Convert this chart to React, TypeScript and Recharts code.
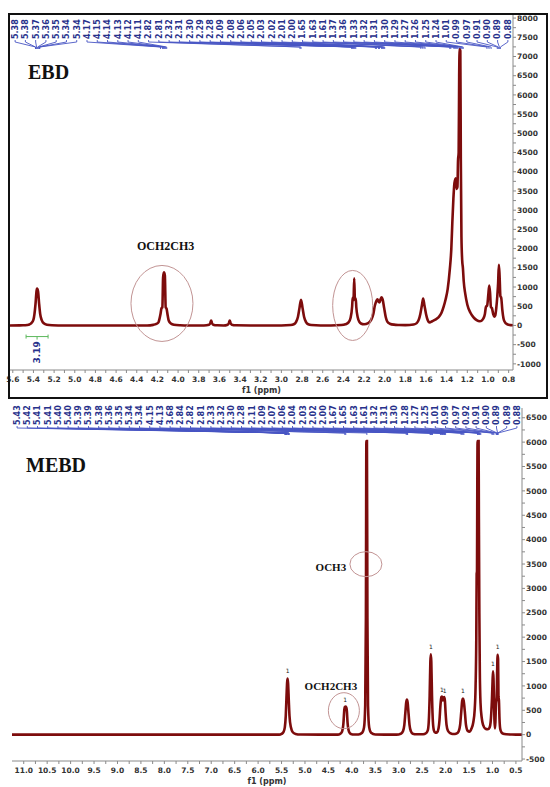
import { LineChart, Line, XAxis, YAxis, ReferenceDot } from 'recharts';

type Pt = [number, number];

// ---- EBD trace, [ppm, intensity] ----
const ebdOlefinic: Pt[] = [
  [5.627, 0], [5.5, 3], [5.46, 12], [5.44, 25], [5.42, 60], [5.4, 150], [5.39, 300], [5.38, 560],
  [5.37, 900], [5.365, 960], [5.355, 880], [5.345, 560], [5.335, 300], [5.32, 140], [5.3, 55],
  [5.27, 18], [5.22, 5], [5.1, 0],
];
const ebdEthoxy: Pt[] = [
  [4.3, 0], [4.24, 15], [4.21, 40], [4.19, 80], [4.18, 170], [4.17, 300], [4.16, 450], [4.152, 470],
  [4.145, 1250], [4.137, 1380], [4.128, 1300], [4.12, 470], [4.112, 440], [4.1, 250], [4.09, 120],
  [4.07, 50], [4.04, 18], [3.98, 5], [3.9, 0],
];
const ebdMinor: Pt[] = [
  [3.75, 0], [3.7, 20], [3.688, 60], [3.68, 130], [3.672, 60], [3.66, 20], [3.62, 3], [3.56, 0],
  [3.52, 20], [3.508, 60], [3.5, 130], [3.492, 60], [3.48, 20], [3.44, 3], [3.3, 0],
];
const ebdBisallylic: Pt[] = [
  [3.0, 0], [2.91, 10], [2.88, 30], [2.86, 80], [2.84, 220], [2.825, 450], [2.81, 670], [2.795, 450],
  [2.78, 220], [2.76, 80], [2.74, 30], [2.71, 10], [2.62, 0],
];
const ebdAlpha: Pt[] = [
  [2.52, 0], [2.42, 10], [2.38, 30], [2.35, 80], [2.33, 200], [2.315, 500], [2.31, 720], [2.302, 650],
  [2.295, 1230], [2.288, 650], [2.28, 700], [2.275, 480], [2.26, 200], [2.245, 90], [2.23, 50],
];
const ebdAllylic: Pt[] = [
  [2.2, 30], [2.16, 60], [2.13, 150], [2.11, 300], [2.095, 520], [2.08, 640], [2.07, 680], [2.06, 620],
  [2.05, 600], [2.04, 680], [2.03, 730], [2.02, 680], [2.005, 450], [1.99, 220], [1.975, 100],
  [1.95, 45], [1.91, 20], [1.86, 12],
];
const ebdBeta: Pt[] = [
  [1.8, 8], [1.72, 25], [1.69, 60], [1.67, 150], [1.655, 300], [1.64, 520], [1.628, 700], [1.615, 520],
  [1.6, 300], [1.585, 150], [1.565, 80],
];
const ebdChain: Pt[] = [
  [1.54, 110], [1.51, 150], [1.48, 210], [1.45, 330], [1.43, 480], [1.41, 680], [1.39, 950], [1.37, 1450],
  [1.355, 2000], [1.345, 2700], [1.335, 3300], [1.325, 3700], [1.312, 3830], [1.303, 3550], [1.296, 3600],
  [1.29, 4300], [1.284, 4500], [1.279, 6500], [1.274, 7200], [1.268, 7150], [1.263, 4300], [1.257, 2300],
  [1.25, 1700], [1.243, 1500], [1.235, 1150], [1.22, 820], [1.2, 540], [1.17, 330], [1.14, 210],
  [1.11, 140], [1.08, 110], [1.06, 130],
];
const ebdMethyl: Pt[] = [
  [1.045, 180], [1.03, 300], [1.02, 480], [1.008, 520], [0.997, 800], [0.988, 1040], [0.98, 850],
  [0.972, 480], [0.962, 450], [0.95, 300], [0.94, 230], [0.93, 260], [0.92, 450], [0.91, 760],
  [0.902, 1100], [0.895, 1580], [0.888, 1300], [0.88, 760], [0.872, 720], [0.862, 420], [0.85, 180],
  [0.835, 80], [0.82, 40], [0.8, 18], [0.78, 8], [0.758, 5],
];

// ---- MEBD trace ----
const mebdOlefinic: Pt[] = [
  [11.25, 0], [6.0, 0], [5.55, 0], [5.5, 15], [5.46, 50], [5.43, 150], [5.41, 380], [5.395, 750],
  [5.38, 1080], [5.37, 1150], [5.36, 1050], [5.345, 700], [5.33, 380], [5.3, 150], [5.26, 50],
  [5.2, 15], [5.1, 3], [4.4, 0],
];
const mebdEthoxy: Pt[] = [
  [4.3, 0], [4.25, 15], [4.21, 60], [4.18, 230], [4.16, 520], [4.15, 570], [4.13, 575], [4.11, 520],
  [4.09, 230], [4.06, 60], [4.02, 15], [3.95, 3],
];
const mebdMethoxy: Pt[] = [
  [3.86, 5], [3.78, 40], [3.74, 150], [3.715, 600], [3.7, 2400], [3.69, 6020], [3.678, 6020],
  [3.668, 2400], [3.655, 600], [3.63, 150], [3.59, 40], [3.5, 5], [3.1, 0],
];
const mebdBisallylic: Pt[] = [
  [3.0, 5], [2.95, 20], [2.91, 70], [2.88, 200], [2.86, 430], [2.84, 660], [2.825, 720], [2.81, 660],
  [2.79, 430], [2.77, 200], [2.74, 70], [2.7, 20], [2.62, 8],
];
const mebdAlpha: Pt[] = [
  [2.48, 10], [2.42, 30], [2.38, 90], [2.36, 250], [2.34, 800], [2.325, 1500], [2.315, 1650],
  [2.305, 1500], [2.29, 800], [2.27, 250], [2.25, 90], [2.22, 40],
];
const mebdAllylic: Pt[] = [
  [2.18, 50], [2.15, 130], [2.13, 300], [2.11, 600], [2.09, 770], [2.075, 780], [2.06, 700],
  [2.045, 740], [2.03, 770], [2.015, 700], [2.0, 450], [1.98, 200], [1.95, 80], [1.9, 30], [1.85, 15],
  [1.8, 15],
];
const mebdBeta: Pt[] = [
  [1.76, 25], [1.72, 70], [1.69, 200], [1.665, 480], [1.645, 700], [1.63, 740], [1.615, 700],
  [1.59, 480], [1.565, 200], [1.53, 80], [1.49, 60],
];
const mebdChain: Pt[] = [
  [1.45, 120], [1.41, 250], [1.38, 500], [1.36, 1000], [1.345, 2000], [1.337, 3300], [1.33, 3350],
  [1.324, 5000], [1.318, 6020], [1.296, 6020], [1.29, 4500], [1.28, 2500], [1.27, 1300], [1.255, 650],
  [1.23, 350], [1.2, 200], [1.15, 120], [1.1, 110], [1.06, 150],
];
const mebdMethyl: Pt[] = [
  [1.04, 250], [1.025, 450], [1.01, 750], [0.998, 1100], [0.988, 1300], [0.978, 1150], [0.968, 750],
  [0.958, 300], [0.948, 130], [0.938, 250], [0.925, 650], [0.91, 750], [0.9, 1300], [0.89, 1640],
  [0.88, 1550], [0.872, 780], [0.862, 700], [0.85, 320], [0.835, 120], [0.81, 50], [0.77, 20],
  [0.7, 8], [0.6, 3], [0.5, 0], [0.37, 0],
];

// peak-picking labels along the top
const ebdPeakLabels = [
  '5.38', '5.38', '5.37', '5.36', '5.35', '5.34', '5.34', '4.17', '4.15', '4.14', '4.13', '4.12', '4.11',
  '2.82', '2.81', '2.32', '2.31', '2.30', '2.29', '2.28', '2.09', '2.08', '2.06', '2.05', '2.03', '2.02',
  '2.01', '2.00', '1.65', '1.63', '1.61', '1.37', '1.36', '1.33', '1.32', '1.31', '1.30', '1.29', '1.27',
  '1.26', '1.25', '1.24', '1.01', '0.99', '0.97', '0.91', '0.90', '0.89', '0.88',
];
const mebdPeakLabels = [
  '5.43', '5.42', '5.41', '5.41', '5.40', '5.40', '5.39', '5.39', '5.38', '5.36', '5.35', '5.34', '5.34',
  '4.15', '4.13', '3.68', '2.84', '2.82', '2.81', '2.33', '2.32', '2.30', '2.28', '2.11', '2.09', '2.07',
  '2.06', '2.04', '2.03', '2.02', '2.00', '1.67', '1.65', '1.63', '1.61', '1.32', '1.31', '1.30', '1.28',
  '1.27', '1.25', '1.01', '0.99', '0.97', '0.92', '0.91', '0.90', '0.89', '0.89', '0.88',
];

// integration marks "1" above MEBD peaks
const mebdMarks: Pt[] = [
  [5.37, 1260], [4.14, 680], [2.315, 1760], [2.08, 880], [2.02, 860], [1.63, 850], [0.988, 1410], [0.888, 1750],
];

const ebdXTicks = [5.6, 5.4, 5.2, 5.0, 4.8, 4.6, 4.4, 4.2, 4.0, 3.8, 3.6, 3.4, 3.2, 3.0, 2.8, 2.6, 2.4, 2.2, 2.0, 1.8, 1.6, 1.4, 1.2, 1.0, 0.8];
const mebdXTicks = [11.0, 10.5, 10.0, 9.5, 9.0, 8.5, 8.0, 7.5, 7.0, 6.5, 6.0, 5.5, 5.0, 4.5, 4.0, 3.5, 3.0, 2.5, 2.0, 1.5, 1.0, 0.5];
const ebdYTicks = [-1000, -500, 0, 500, 1000, 1500, 2000, 2500, 3000, 3500, 4000, 4500, 5000, 5500, 6000, 6500, 7000, 7500, 8000];
const mebdYTicks = [-500, 0, 500, 1000, 1500, 2000, 2500, 3000, 3500, 4000, 4500, 5000, 5500, 6000, 6500];

const EBD_X: [number, number] = [0.758, 5.627];
const EBD_Y: [number, number] = [-1160, 8080];
const MEBD_X: [number, number] = [0.37, 11.25];
const MEBD_Y: [number, number] = [-540, 6700];

const W = 550;
// top margins already allow for the 1px peak-label axis
const EBD_M = { top: 14, right: 0, bottom: 6, left: 10 };
const MEBD_M = { top: 7, right: 0, bottom: 2, left: 12 };
const EBD_YW = 37;
const MEBD_YW = 28;

const RED = '#7d0c0c';
const BLUE = '#27318b';
const AXIS = '#8a8a8a';
const SANS = 'DejaVu Sans';
const SERIF = 'Liberation Serif';

const toRows = (parts: Pt[][]) =>
  parts.flat().map(([ppm, i]) => ({ ppm, i })).sort((a, b) => b.ppm - a.ppm);

const ebdRows = toRows([ebdOlefinic, ebdEthoxy, ebdMinor, ebdBisallylic, ebdAlpha, ebdAllylic, ebdBeta, ebdChain, ebdMethyl]);
const mebdRows = toRows([mebdOlefinic, mebdEthoxy, mebdMethoxy, mebdBisallylic, mebdAlpha, mebdAllylic, mebdBeta, mebdChain, mebdMethyl]);

const withMinor = (major: number[]) =>
  major.flatMap((v, k) => (k === 0 ? [v] : [(major[k - 1] + v) / 2, v]));

const tickFont = { fill: '#333', fontSize: 7.5, fontWeight: 'bold', fontFamily: SANS };

// linear ppm -> pixel for the connector lines under the peak labels
const ppmToX = (domain: [number, number], left: number, width: number) => (ppm: number) =>
  left + ((domain[1] - ppm) / (domain[1] - domain[0])) * width;

function peakTick(labels: string[], toX: (p: number) => number, top: number) {
  return (p: any) => {
    const text = labels[p.payload.value];
    if (!text) return <g />;
    const x = p.x;
    const bottom = top + 20;
    const tx = toX(parseFloat(text));
    // anchored at the bottom, text reads upwards
    return (
      <g>
        <text
          x={x}
          y={bottom}
          transform={`rotate(-90 ${x} ${bottom})`}
          textAnchor="start"
          dy="0.36em"
          fill={BLUE}
          fontSize={8}
          fontWeight="bold"
          fontFamily={SANS}
        >
          {text}
        </text>
        <polyline
          points={`${x},${bottom + 1} ${x},${bottom + 3} ${tx},${bottom + 8} ${tx},${bottom + 10}`}
          fill="none"
          stroke="#4856c4"
          strokeWidth={0.9}
        />
      </g>
    );
  };
}

const ellipse = (rx: number, ry: number) => (p: any) => (
  <ellipse cx={p.cx} cy={p.cy} rx={rx} ry={ry} fill="none" stroke="#c29494" strokeWidth={1} />
);

const note = (text: string, size: number) => (p: any) => (
  <text x={p.cx} y={p.cy} textAnchor="middle" dominantBaseline="central" fontFamily={SERIF}
    fontWeight="bold" fontSize={size} fill="#111">
    {text}
  </text>
);

const integralBracket = (p: any) => (
  <g stroke="#5cb85c" strokeWidth={1}>
    <line x1={p.cx - 11} y1={p.cy} x2={p.cx + 11} y2={p.cy} />
    <line x1={p.cx - 11} y1={p.cy - 2} x2={p.cx - 11} y2={p.cy + 2} />
    <line x1={p.cx + 11} y1={p.cy - 2} x2={p.cx + 11} y2={p.cy + 2} />
    <line x1={p.cx} y1={p.cy} x2={p.cx} y2={p.cy + 3} />
  </g>
);

const integralText = (p: any) => (
  <text x={p.cx} y={p.cy} transform={`rotate(-90 ${p.cx} ${p.cy})`} textAnchor="middle" dy="0.36em"
    fill={BLUE} fontSize={9} fontWeight="bold" fontFamily={SANS}>
    3.19
  </text>
);

const markOne = (p: any) => (
  <text x={p.cx} y={p.cy} textAnchor="middle" fontSize={6} fill="#222" fontFamily={SANS}>1</text>
);

function Spectrum(props: {
  rows: { ppm: number; i: number }[];
  height: number;
  margin: { top: number; right: number; bottom: number; left: number };
  xDomain: [number, number];
  yDomain: [number, number];
  xTicks: number[];
  yTicks: number[];
  yWidth: number;
  labels: string[];
  labelTop: number;
  children?: React.ReactNode;
}) {
  const { rows, height, margin, xDomain, yDomain, xTicks, yTicks, yWidth, labels, labelTop } = props;
  const plotW = W - margin.left - margin.right - yWidth;
  const toX = ppmToX(xDomain, margin.left, plotW);
  const xMajor = new Set(xTicks);
  const yMajor = new Set(yTicks);
  const labelRows = labels.map((_, k) => ({ k, v: yDomain[0] }));
  return (
    <LineChart width={W} height={height} data={rows} margin={margin}>
      <XAxis
        xAxisId="ppm"
        dataKey="ppm"
        type="number"
        domain={xDomain}
        reversed
        allowDataOverflow
        ticks={withMinor(xTicks)}
        interval={0}
        tickFormatter={(v: number) => (xMajor.has(v) ? v.toFixed(1) : '')}
        height={24}
        tickSize={3}
        tickMargin={4}
        stroke={AXIS}
        tick={tickFont}
        label={{ value: 'f1 (ppm)', position: 'insideBottom', offset: 1, fill: '#333', fontSize: 8, fontWeight: 'bold', fontFamily: SANS }}
      />
      <XAxis
        xAxisId="peaks"
        dataKey="k"
        orientation="top"
        type="number"
        domain={[-0.5, labels.length - 0.5]}
        allowDataOverflow
        ticks={labelRows.map((r) => r.k)}
        interval={0}
        height={1}
        axisLine={false}
        tickLine={false}
        tick={peakTick(labels, toX, labelTop)}
      />
      <YAxis
        yAxisId="i"
        orientation="right"
        type="number"
        domain={yDomain}
        allowDataOverflow
        ticks={withMinor(yTicks)}
        interval={0}
        tickFormatter={(v: number) => (yMajor.has(v) ? String(v) : '')}
        width={yWidth}
        tickSize={3}
        tickMargin={1}
        stroke={AXIS}
        tick={tickFont}
      />
      <Line
        xAxisId="peaks"
        yAxisId="i"
        data={labelRows}
        dataKey="v"
        stroke="none"
        dot={false}
        activeDot={false}
        isAnimationActive={false}
      />
      <Line
        xAxisId="ppm"
        yAxisId="i"
        dataKey="i"
        type="monotone"
        stroke={RED}
        strokeWidth={2.6}
        dot={false}
        isAnimationActive={false}
      />
      {props.children}
    </LineChart>
  );
}

export default function App() {
  return (
    <div style={{ position: 'absolute', left: 0, top: 0, width: W, height: 787, background: '#fff', overflow: 'hidden' }}>
      <div style={{ position: 'absolute', left: 0, top: 0 }}>
        <Spectrum rows={ebdRows} height={400} margin={EBD_M} xDomain={EBD_X} yDomain={EBD_Y}
          xTicks={ebdXTicks} yTicks={ebdYTicks} yWidth={EBD_YW} labels={ebdPeakLabels} labelTop={19}>
          <ReferenceDot xAxisId="ppm" yAxisId="i" x={4.156} y={572} shape={ellipse(31, 38)} />
          <ReferenceDot xAxisId="ppm" yAxisId="i" x={2.31} y={520} shape={ellipse(20, 35)} />
          <ReferenceDot xAxisId="ppm" yAxisId="i" x={4.12} y={2080} shape={note('OCH2CH3', 12)} />
          <ReferenceDot xAxisId="ppm" yAxisId="i" x={5.365} y={-290} shape={integralBracket} />
          <ReferenceDot xAxisId="ppm" yAxisId="i" x={5.365} y={-700} shape={integralText} />
        </Spectrum>
      </div>
      <div style={{ position: 'absolute', left: 0, top: 400 }}>
        <Spectrum rows={mebdRows} height={387} margin={MEBD_M} xDomain={MEBD_X} yDomain={MEBD_Y}
          xTicks={mebdXTicks} yTicks={mebdYTicks} yWidth={MEBD_YW} labels={mebdPeakLabels} labelTop={5}>
          <ReferenceDot xAxisId="ppm" yAxisId="i" x={4.17} y={492} shape={ellipse(15.5, 18)} />
          <ReferenceDot xAxisId="ppm" yAxisId="i" x={3.7} y={3497} shape={ellipse(16, 12.5)} />
          <ReferenceDot xAxisId="ppm" yAxisId="i" x={4.447} y={1005} shape={note('OCH2CH3', 11)} />
          <ReferenceDot xAxisId="ppm" yAxisId="i" x={4.447} y={3446} shape={note('OCH3', 11)} />
          {mebdMarks.map(([ppm, v], k) => (
            <ReferenceDot key={k} xAxisId="ppm" yAxisId="i" x={ppm} y={v} shape={markOne} />
          ))}
        </Spectrum>
      </div>
      <div style={{ position: 'absolute', left: 8, top: 13, width: 540, height: 386, border: '2.5px solid #111', boxSizing: 'border-box', pointerEvents: 'none' }} />
      <div style={{ position: 'absolute', left: 28, top: 62, fontFamily: SERIF, fontWeight: 'bold', fontSize: 20, lineHeight: '20px', color: '#111' }}>EBD</div>
      <div style={{ position: 'absolute', left: 26, top: 455, fontFamily: SERIF, fontWeight: 'bold', fontSize: 20, lineHeight: '20px', color: '#111' }}>MEBD</div>
    </div>
  );
}
